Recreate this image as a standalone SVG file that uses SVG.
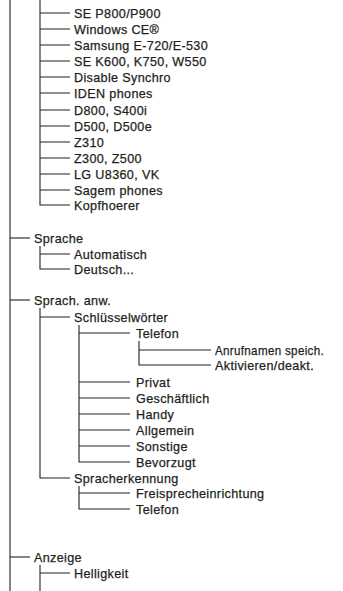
<svg xmlns="http://www.w3.org/2000/svg" width="343" height="591" viewBox="0 0 343 591">
<style>
text{font-family:"Liberation Sans",Arial,sans-serif;font-size:12.6px;letter-spacing:0.35px;fill:#231f20;stroke:#231f20;stroke-width:0.25}
.c line,.c path{stroke:#231f20;stroke-width:1.1;fill:none}
</style>
<rect width="343" height="591" fill="#fff"/>
<g class="c" id="connectors">
<line x1="10" y1="0" x2="10" y2="591"/>
<path d="M40 0V205H70"/>
<path d="M40 13H70M40 29H70M40 45H70M40 61H70M40 77H70M40 93H70M40 110H70M40 126H70M40 142H70M40 158H70M40 174H70M40 190H70"/>
<path d="M10 238H30"/>
<path d="M40 246V269H70M40 254H70"/>
<path d="M10 300H30"/>
<path d="M40 308V478H70M40 317H70"/>
<path d="M79 325V462H130M79 333H130M79 382H130M79 398H130M79 414H130M79 430H130M79 446H130"/>
<path d="M139 341V365H211M139 350H211"/>
<path d="M79 486V509H130M79 493H130"/>
<path d="M10 557H30"/>
<path d="M40 565V591M40 573H70"/>
</g>
<g id="n-se-p800"><text x="74" y="17.5">SE P800/P900</text></g>
<g id="n-wince"><text x="74" y="33.5">Windows CE®</text></g>
<g id="n-samsung"><text x="74" y="49.5">Samsung E-720/E-530</text></g>
<g id="n-se-k600"><text x="74" y="65.5">SE K600, K750, W550</text></g>
<g id="n-disable"><text x="74" y="81.5">Disable Synchro</text></g>
<g id="n-iden"><text x="74" y="97.5">IDEN phones</text></g>
<g id="n-d800"><text x="74" y="114.5">D800, S400i</text></g>
<g id="n-d500"><text x="74" y="130.5">D500, D500e</text></g>
<g id="n-z310"><text x="74" y="146.5">Z310</text></g>
<g id="n-z300"><text x="74" y="162.5">Z300, Z500</text></g>
<g id="n-lg"><text x="74" y="178.5">LG U8360, VK</text></g>
<g id="n-sagem"><text x="74" y="194.5">Sagem phones</text></g>
<g id="n-kopf"><text x="74" y="209.5">Kopfhoerer</text></g>
<g id="n-sprache"><text x="34" y="242.5">Sprache</text></g>
<g id="n-auto"><text x="74" y="258.5">Automatisch</text></g>
<g id="n-deutsch"><text x="74" y="273.5">Deutsch...</text></g>
<g id="n-sprachanw"><text x="34" y="304.5">Sprach. anw.</text></g>
<g id="n-schluessel"><text x="74" y="321.5">Schlüsselwörter</text></g>
<g id="n-telefon1"><text x="136" y="337.5">Telefon</text></g>
<g id="n-anruf"><text x="215" y="354.5" textLength="109" lengthAdjust="spacingAndGlyphs">Anrufnamen speich.</text></g>
<g id="n-aktiv"><text x="215" y="369.5">Aktivieren/deakt.</text></g>
<g id="n-privat"><text x="136" y="386.5">Privat</text></g>
<g id="n-gesch"><text x="136" y="402.5">Geschäftlich</text></g>
<g id="n-handy"><text x="136" y="418.5">Handy</text></g>
<g id="n-allg"><text x="136" y="434.5">Allgemein</text></g>
<g id="n-sonst"><text x="136" y="450.5">Sonstige</text></g>
<g id="n-bevor"><text x="136" y="466.5">Bevorzugt</text></g>
<g id="n-spracherk"><text x="74" y="482.5">Spracherkennung</text></g>
<g id="n-freisp"><text x="136" y="497.5">Freisprecheinrichtung</text></g>
<g id="n-telefon2"><text x="136" y="513.5">Telefon</text></g>
<g id="n-anzeige"><text x="34" y="561.5">Anzeige</text></g>
<g id="n-hell"><text x="74" y="577.5">Helligkeit</text></g>
</svg>
